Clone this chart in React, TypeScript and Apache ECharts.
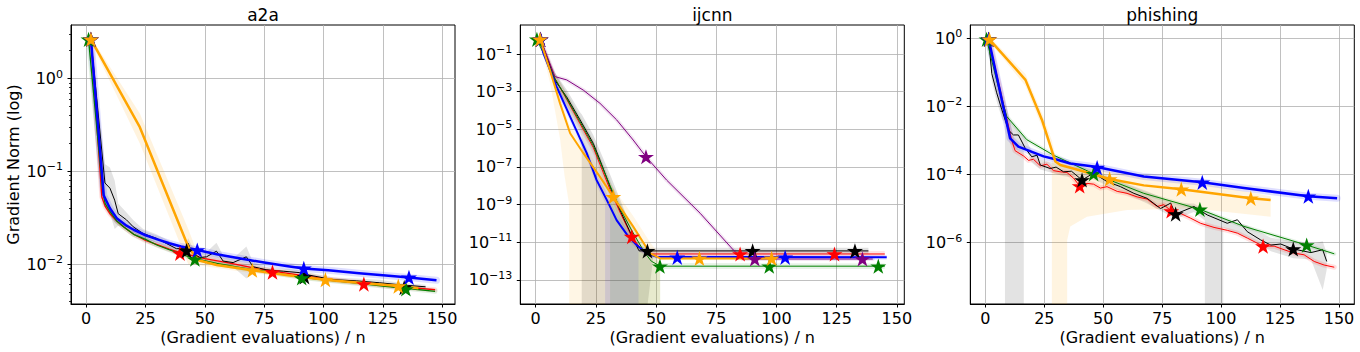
import React, { useEffect, useRef } from 'react';
import * as echarts from 'echarts';

// ---------------- data ----------------
const xTicks = [0, 25, 50, 75, 100, 125, 150];
const a2aYTicks = [0.01, 0.1, 1];
const ijcnnYTicks = [1e-13, 1e-11, 1e-9, 1e-7, 1e-5, 1e-3, 1e-1];
const phYTicks = [1e-6, 1e-4, 1e-2, 1];
const a2aMinorTicks = [0.004, 0.005, 0.006, 0.007, 0.008, 0.009, 0.02, 0.03, 0.04, 0.05, 0.06, 0.07, 0.08, 0.09, 0.2, 0.3, 0.4, 0.5, 0.6, 0.7, 0.8, 0.9, 2, 3];

const a2aXLim = [-6.4, 155.4];
const a2aYLim = [0.00372, 3.79];
const ijcnnXLim = [-6.4, 153.1];
const ijcnnYLim = [5.3e-15, 3.47];
const phXLim = [-6.4, 156.5];
const phYLim = [1.58e-8, 2.45];

// a2a
const a2aRedX = [2, 6.6, 8, 10, 13, 16, 20, 25, 30, 35, 40, 50, 60, 70, 80, 90, 100, 110, 120, 130, 140, 147];
const a2aRedY = [2.65, 0.053, 0.042, 0.035, 0.029, 0.025, 0.021, 0.018, 0.0162, 0.0145, 0.0132, 0.0115, 0.0103, 0.0092, 0.0083, 0.0076, 0.007, 0.0065, 0.0061, 0.0057, 0.0055, 0.0053];
const a2aRedStarX = [2, 39.5, 78.5, 117];
const a2aRedStarY = [2.65, 0.0131, 0.0082, 0.0061];

const a2aGreenX = [1, 7, 8, 10, 13, 16, 20, 25, 30, 35, 40, 45.8, 55, 65, 75, 90.8, 100, 115, 125, 134.7, 147];
const a2aGreenY = [2.65, 0.06, 0.045, 0.037, 0.029, 0.025, 0.021, 0.0185, 0.016, 0.0143, 0.0128, 0.0115, 0.0102, 0.0092, 0.0084, 0.0072, 0.0068, 0.0062, 0.0058, 0.0055, 0.0051];
const a2aGreenStarX = [1, 45.8, 90.8, 134.7];
const a2aGreenStarY = [2.65, 0.0113, 0.0071, 0.0054];

const a2aBlackX = [2, 7.9, 10, 12, 13.5, 17, 19.8, 24, 29.6, 33.8, 38, 41.6, 43, 44.4, 47.9, 50.7, 54.9, 57.7, 61.9, 67.5, 70.3, 75.8, 83, 90, 94.2, 104, 114, 123.7, 132, 143];
const a2aBlackY = [2.65, 0.075, 0.066, 0.049, 0.035, 0.03, 0.0253, 0.0214, 0.019, 0.0167, 0.0147, 0.0147, 0.0168, 0.0134, 0.0118, 0.012, 0.0138, 0.0108, 0.0104, 0.012, 0.0094, 0.0087, 0.0084, 0.0081, 0.0076, 0.0068, 0.0066, 0.0063, 0.006, 0.0057];
const a2aBlackHi = [2.8, 0.12, 0.11, 0.08, 0.045, 0.036, 0.03, 0.024, 0.021, 0.0185, 0.016, 0.016, 0.019, 0.016, 0.013, 0.0135, 0.017, 0.0125, 0.0115, 0.0155, 0.0105, 0.0093, 0.0089, 0.0086, 0.0081, 0.0072, 0.007, 0.0068, 0.0063, 0.006];
const a2aBlackLo = [2.5, 0.045, 0.035, 0.024, 0.026, 0.025, 0.022, 0.019, 0.0172, 0.0152, 0.0136, 0.0135, 0.0148, 0.0118, 0.0106, 0.0107, 0.0095, 0.0093, 0.0093, 0.007, 0.0083, 0.0081, 0.0079, 0.0076, 0.0071, 0.0065, 0.0062, 0.0059, 0.0057, 0.0055];
const a2aBlackStarX = [2, 42.3, 92, 134];
const a2aBlackStarY = [2.65, 0.014, 0.0073, 0.0056];

const a2aBlueX = [2, 7.4, 10, 13, 17, 20, 25, 30, 35, 40, 46.8, 55, 65, 75, 85, 91.7, 102, 115, 125, 136, 147.6];
const a2aBlueY = [2.65, 0.055, 0.04, 0.031, 0.026, 0.0235, 0.0205, 0.0185, 0.0168, 0.0155, 0.0142, 0.0128, 0.0115, 0.0104, 0.0095, 0.009, 0.0086, 0.008, 0.0076, 0.0072, 0.0067];
const a2aBlueStarX = [2, 46.8, 91.7, 136];
const a2aBlueStarY = [2.65, 0.0142, 0.009, 0.0072];

const a2aOrangeX = [2, 22.6, 43, 47.2, 55, 70, 85, 100.8, 115, 131.5, 140];
const a2aOrangeY = [2.65, 0.3, 0.0154, 0.011, 0.0098, 0.0086, 0.0076, 0.0068, 0.0063, 0.0058, 0.0055];
const a2aOrangeHi = [2.8, 0.42, 0.024, 0.0125, 0.0106, 0.0092, 0.0081, 0.0072, 0.0066, 0.0061, 0.0058];
const a2aOrangeLo = [2.5, 0.2, 0.01, 0.0098, 0.0091, 0.008, 0.0072, 0.0064, 0.006, 0.0055, 0.0052];
const a2aOrangeStarX = [2, 70, 100.8, 131.5];
const a2aOrangeStarY = [2.65, 0.0086, 0.0068, 0.0058];

// ijcnn
const ijRedX = [2, 8, 12.8, 18.4, 23.9, 30.9, 35, 39.9, 44, 48, 145];
const ijRedY = [0.6, 5e-3, 4e-4, 2e-5, 1.1e-6, 6.3e-9, 4e-10, 2e-11, 4e-12, 2.4e-12, 2.4e-12];
const ijRedStarX = [2, 39.9, 84.9, 124.1];
const ijRedStarY = [0.6, 2e-11, 2.4e-12, 2.4e-12];
const ijRedBandX = [2, 8, 12.8, 18.4, 23.9, 30.9, 35, 39.9, 44, 48, 145];
const ijRedBandHi = [0.8, 0.01, 8e-4, 4e-5, 2.5e-6, 1.6e-8, 1e-9, 5e-11, 5.6e-12, 3.5e-12, 3.5e-12];
const ijRedBandLo = [0.45, 2.5e-3, 2e-4, 1e-5, 5e-7, 2.5e-9, 1.6e-10, 8e-12, 2.8e-12, 1.6e-12, 1.6e-12];

const ijGreenX = [0.5, 8, 12.8, 18.4, 23.9, 30.9, 35, 40, 45, 48, 51.7, 145];
const ijGreenY = [0.6, 5e-3, 4.5e-4, 2.5e-5, 1.4e-6, 1e-8, 6.3e-10, 4e-11, 3.2e-12, 1e-12, 5.4e-13, 5.4e-13];
const ijGreenStarX = [0.5, 51.6, 97, 142.3];
const ijGreenStarY = [0.6, 5.4e-13, 5.4e-13, 5.4e-13];
const ijGreenBandX = [0.5, 8, 12.8, 18.4, 23.9, 30.9, 30.9, 35, 40, 45.2, 51.7, 51.7, 145];
const ijGreenBandHi = [0.8, 0.01, 9e-4, 5e-5, 2.8e-6, 2e-8, 2e-8, 1.3e-9, 8e-11, 6.3e-12, 8e-13, 8e-13, 7.6e-13];
const ijGreenBandLo = [0.45, 2.5e-3, 2.2e-4, 1.3e-5, 7e-7, 5e-9, 0, 0, 0, 0, 0, 3.8e-13, 3.8e-13];

const ijBlackX = [2, 8, 12.8, 18.4, 23.9, 26.7, 30.9, 35, 39, 42.7, 43, 138.2];
const ijBlackY = [0.6, 4e-3, 5.4e-4, 3.2e-5, 1.8e-6, 2.3e-7, 8.9e-9, 5.2e-10, 4e-11, 4e-12, 3.5e-12, 3.5e-12];
const ijBlackStarX = [2, 46.4, 90.1, 132.6];
const ijBlackStarY = [0.6, 3.5e-12, 3.5e-12, 3.5e-12];
const ijBlackBandX = [2, 8, 12.8, 18.4, 19.1, 19.1, 23.9, 30.9, 35, 39, 42.7, 46.5, 49, 138.2];
const ijBlackBandHi = [0.8, 0.01, 1.3e-3, 8e-5, 6.3e-5, 6.3e-5, 5e-6, 4e-8, 2e-9, 1e-10, 6.3e-12, 5.2e-12, 5.2e-12, 5.2e-12];
const ijBlackBandLo = [0.45, 2.5e-3, 1.6e-4, 6.3e-6, 4e-6, 0, 0, 0, 0, 0, 0, 0, 2.4e-12, 2.4e-12];

const ijPurpleX = [2, 8, 12.9, 19.8, 26.7, 33.6, 40.5, 45.8, 54.4, 68.3, 82.1, 86, 140];
const ijPurpleY = [0.6, 6.3e-3, 4.2e-3, 1.2e-3, 2.4e-4, 3.2e-5, 2.7e-6, 3.5e-7, 2e-8, 3.5e-10, 3.9e-12, 1.3e-12, 1.3e-12];
const ijPurpleStarX = [2, 45.8, 91, 135.7];
const ijPurpleStarY = [0.6, 3.5e-7, 1.3e-12, 1.3e-12];

const ijBlueX = [2, 3.2, 8.7, 14.9, 21.2, 25.3, 29.5, 33.6, 38, 42, 46.1, 50.3, 145.8];
const ijBlueY = [0.6, 0.11, 1.8e-3, 3.2e-5, 5.4e-7, 2e-8, 1.8e-9, 1.5e-10, 2.5e-11, 7e-12, 2.6e-12, 1.7e-12, 1.6e-12];
const ijBlueStarX = [2, 58.8, 103.6];
const ijBlueStarY = [0.6, 1.6e-12, 1.6e-12];
const ijBlueBandX = [2, 3.2, 8.7, 14.9, 21.2, 25.3, 28.8, 28.8, 33.6, 38, 42.7, 42.7, 46.1, 50.3, 145.8];
const ijBlueBandHi = [0.8, 0.16, 3.2e-3, 5.6e-5, 1e-6, 4e-8, 6.3e-9, 6.3e-9, 3.2e-10, 5e-11, 1e-11, 1e-11, 3.5e-12, 2.2e-12, 2.1e-12];
const ijBlueBandLo = [0.45, 0.08, 1e-3, 1.8e-5, 2.8e-7, 1e-8, 1.3e-9, 0, 0, 0, 0, 3.2e-12, 2e-12, 1.3e-12, 1.2e-12];

const ijOrangeX = [1.8, 5.9, 10.1, 14.3, 19.8, 26.7, 32.2, 40.5, 47.5, 51.7, 100];
const ijOrangeY = [0.6, 0.014, 2.4e-4, 6.2e-6, 5.4e-7, 3e-8, 2.6e-9, 6.8e-11, 2.6e-12, 1.4e-12, 1.4e-12];
const ijOrangeStarX = [1.8, 32.2, 68, 98];
const ijOrangeStarY = [0.6, 2.6e-9, 1.4e-12, 1.4e-12];
const ijOrangeBandX = [1.8, 5.9, 8, 10.1, 12, 13.9, 13.9, 19.8, 26.7, 32.2, 40.5, 47.5, 51.7, 51.7, 100];
const ijOrangeBandHi = [0.8, 0.032, 4e-3, 6.3e-4, 1e-4, 2e-5, 2e-5, 1.3e-6, 8e-8, 8e-9, 2.5e-10, 1e-11, 2e-12, 2e-12, 1.8e-12];
const ijOrangeBandLo = [0.45, 3.2e-3, 1e-4, 3.2e-6, 3.2e-8, 1e-9, 0, 0, 0, 0, 0, 0, 0, 1.1e-12, 1.1e-12];

// phishing
const phRedX = [1.4, 11.2, 12.6, 16.2, 18.3, 20.4, 23.3, 26.1, 28.9, 31.8, 34.6, 37.4, 40, 43.1, 45.9, 48.8, 51.6, 55.9, 60.1, 64.4, 68.6, 72.9, 75.7, 78.8, 82.8, 87.1, 91.3, 97, 102.6, 106.9, 111.2, 117.8, 122.5, 126.7, 131, 135.2, 139.5, 143.7, 148];
const phRedY = [0.93, 1e-3, 5e-4, 3.5e-4, 2.6e-4, 2.8e-4, 1.8e-4, 2e-4, 1.3e-4, 1.2e-4, 1.15e-4, 7.8e-5, 4.6e-5, 5.5e-5, 5.2e-5, 4e-5, 4.4e-5, 3.2e-5, 2.8e-5, 2.2e-5, 1.9e-5, 1.15e-5, 1.3e-5, 8.5e-6, 7.2e-6, 5.2e-6, 3.7e-6, 2.8e-6, 2.3e-6, 1.9e-6, 1.35e-6, 7.9e-7, 7.9e-7, 6.2e-7, 4.9e-7, 4.4e-7, 2.8e-7, 2.2e-7, 1.9e-7];
const phRedStarX = [1.4, 40, 78.8, 117.8];
const phRedStarY = [0.93, 4.6e-5, 8.5e-6, 7.9e-7];

const phGreenX = [0.5, 5, 9.1, 17.6, 28.9, 45.9, 67.2, 91, 109.7, 136.3, 148];
const phGreenY = [0.93, 0.05, 5e-3, 1.05e-3, 3.7e-4, 1.05e-4, 2.8e-5, 9.5e-6, 3e-6, 8.5e-7, 4.7e-7];
const phGreenStarX = [0.5, 45.9, 91, 136.3];
const phGreenStarY = [0.93, 1.05e-4, 9.5e-6, 8.5e-7];

const phBlackX = [1.4, 2.7, 4.8, 7, 9.8, 11.9, 14, 16.9, 19.7, 21.9, 23.3, 27.5, 30, 33.2, 36.5, 41, 45.9, 51.6, 57.3, 63, 68.6, 74.3, 78.6, 80.7, 88.5, 94.1, 102.6, 106.9, 111.1, 116.8, 121.1, 125.3, 130.6, 138.1, 143.1, 144.8];
const phBlackY = [0.93, 0.093, 0.025, 7.9e-3, 2e-3, 1.45e-3, 1.45e-3, 5.9e-4, 3.3e-4, 3.7e-4, 1.9e-4, 1.5e-4, 1.65e-4, 1.2e-4, 1.25e-4, 6.9e-5, 1.1e-4, 6.2e-5, 4.4e-5, 2.8e-5, 2e-5, 1e-5, 1.45e-5, 6.9e-6, 1.15e-5, 6.5e-6, 3.7e-6, 4.7e-6, 2.1e-6, 1.2e-6, 8.5e-7, 9.1e-7, 6.5e-7, 5.1e-7, 6.2e-7, 2.8e-7];
const phBlackStarX = [1.4, 41, 80.7, 130.6];
const phBlackStarY = [0.93, 6.9e-5, 6.9e-6, 6.5e-7];
const phBlackBandX = [1.4, 2.7, 4.8, 7, 8.3, 8.3, 16.3, 16.3, 19.7, 23.3, 33.2, 45.9, 57.3, 68.6, 80.7, 88.5, 93.1, 93.1, 100.9, 100.9, 111.1, 121.1, 130.6, 138.1, 143.1, 144.8];
const phBlackBandHi = [1.12, 0.14, 0.04, 0.0126, 6.3e-3, 6.3e-3, 1.4e-3, 1.4e-3, 5e-4, 2.8e-4, 1.8e-4, 1.4e-4, 6.3e-5, 3.2e-5, 1.4e-5, 1.4e-5, 8.9e-6, 8.9e-6, 5e-6, 5e-6, 3.2e-6, 1.4e-6, 1.1e-6, 8.9e-7, 1.1e-6, 5e-7];
const phBlackBandLo = [0.8, 0.056, 0.014, 4.5e-3, 3.2e-3, 0, 0, 7.9e-4, 2.2e-4, 1.4e-4, 8.9e-5, 7.1e-5, 3.2e-5, 1.4e-5, 5e-6, 7.9e-6, 4.5e-6, 0, 0, 2.8e-6, 1.4e-6, 5.6e-7, 3.5e-7, 3.2e-7, 4.1e-8, 1.6e-7];

const phBlueX = [1.4, 10.5, 14, 24.7, 30.5, 36, 46.7, 67.2, 92, 109.7, 137, 149.2];
const phBlueY = [0.93, 1.15e-3, 6.6e-4, 3.4e-4, 2.7e-4, 2.1e-4, 1.7e-4, 8.7e-5, 5.9e-5, 4e-5, 2.3e-5, 2e-5];
const phBlueStarX = [1.4, 47.4, 92, 137];
const phBlueStarY = [0.93, 1.6e-4, 5.9e-5, 2.3e-5];

const phOrangeX = [1.7, 17, 24, 29.7, 31.8, 38.8, 52.7, 67.2, 83.1, 112.6, 121];
const phOrangeY = [0.93, 0.06, 4e-3, 2.4e-4, 1.9e-4, 1.4e-4, 7.4e-5, 4.8e-5, 3.7e-5, 2e-5, 1.8e-5];
const phOrangeStarX = [1.7, 52.7, 83.1, 112.6];
const phOrangeStarY = [0.93, 7.4e-5, 3.7e-5, 2e-5];
const phOrangeBandX = [1.7, 17, 24, 28.2, 28.2, 29.7, 34.7, 34.7, 36, 43.1, 60.1, 88.5, 121];
const phOrangeBandHi = [1.12, 0.089, 6.3e-3, 1e-3, 1e-3, 3.5e-4, 2.2e-4, 2.2e-4, 2.1e-4, 1.6e-4, 1e-4, 6e-5, 2.3e-5];
const phOrangeBandLo = [0.8, 0.04, 2.5e-3, 4e-4, 0, 0, 0, 1.2e-6, 3e-6, 5.8e-6, 9.1e-6, 1e-5, 5.8e-6];

// ---------------- styling / builders ----------------
const FONT = 'DejaVu Sans';
const C = { red: '#ff0000', green: '#008000', black: '#000000', blue: '#0000ff', orange: '#ffa500', purple: '#800080' };
const STAR = 'path://M0,-100L22.45,-30.9L95.1,-30.9L36.3,11.8L58.8,80.9L0,38.2L-58.8,80.9L-36.3,11.8L-95.1,-30.9L-22.45,-30.9Z';

type Method = {
  color: string; width: number; x: number[]; y: number[]; sx: number[]; sy: number[];
  halo?: [number, number]; band?: { x: number[]; hi: number[]; lo: number[]; op: number };
};

type Panel = {
  title: string; left: number; xLim: number[]; yLim: number[]; yTicks: number[]; minor?: number[]; methods: Method[];
};

const panels: Panel[] = [
  {
    title: 'a2a', left: 71, xLim: a2aXLim, yLim: a2aYLim, yTicks: a2aYTicks, minor: a2aMinorTicks,
    methods: [
      { color: C.red, width: 1.3, x: a2aRedX, y: a2aRedY, sx: a2aRedStarX, sy: a2aRedStarY, halo: [5, 0.12] },
      { color: C.black, width: 1, x: a2aBlackX, y: a2aBlackY, sx: a2aBlackStarX, sy: a2aBlackStarY, band: { x: a2aBlackX, hi: a2aBlackHi, lo: a2aBlackLo, op: 0.11 } },
      { color: C.green, width: 1.3, x: a2aGreenX, y: a2aGreenY, sx: a2aGreenStarX, sy: a2aGreenStarY, halo: [5, 0.12] },
      { color: C.blue, width: 2.5, x: a2aBlueX, y: a2aBlueY, sx: a2aBlueStarX, sy: a2aBlueStarY, halo: [7, 0.13] },
      { color: C.orange, width: 2.5, x: a2aOrangeX, y: a2aOrangeY, sx: a2aOrangeStarX, sy: a2aOrangeStarY, band: { x: a2aOrangeX, hi: a2aOrangeHi, lo: a2aOrangeLo, op: 0.13 } },
    ],
  },
  {
    title: 'ijcnn', left: 520.3, xLim: ijcnnXLim, yLim: ijcnnYLim, yTicks: ijcnnYTicks,
    methods: [
      { color: C.red, width: 1, x: ijRedX, y: ijRedY, sx: ijRedStarX, sy: ijRedStarY, band: { x: ijRedBandX, hi: ijRedBandHi, lo: ijRedBandLo, op: 0.1 } },
      { color: C.black, width: 1, x: ijBlackX, y: ijBlackY, sx: ijBlackStarX, sy: ijBlackStarY, band: { x: ijBlackBandX, hi: ijBlackBandHi, lo: ijBlackBandLo, op: 0.12 } },
      { color: C.green, width: 1, x: ijGreenX, y: ijGreenY, sx: ijGreenStarX, sy: ijGreenStarY, band: { x: ijGreenBandX, hi: ijGreenBandHi, lo: ijGreenBandLo, op: 0.1 } },
      { color: C.purple, width: 1, x: ijPurpleX, y: ijPurpleY, sx: ijPurpleStarX, sy: ijPurpleStarY, halo: [4, 0.1] },
      { color: C.blue, width: 2, x: ijBlueX, y: ijBlueY, sx: ijBlueStarX, sy: ijBlueStarY, band: { x: ijBlueBandX, hi: ijBlueBandHi, lo: ijBlueBandLo, op: 0.1 } },
      { color: C.orange, width: 2, x: ijOrangeX, y: ijOrangeY, sx: ijOrangeStarX, sy: ijOrangeStarY, band: { x: ijOrangeBandX, hi: ijOrangeBandHi, lo: ijOrangeBandLo, op: 0.1 } },
    ],
  },
  {
    title: 'phishing', left: 970.3, xLim: phXLim, yLim: phYLim, yTicks: phYTicks,
    methods: [
      { color: C.red, width: 1, x: phRedX, y: phRedY, sx: phRedStarX, sy: phRedStarY, halo: [5, 0.12] },
      { color: C.black, width: 1, x: phBlackX, y: phBlackY, sx: phBlackStarX, sy: phBlackStarY, band: { x: phBlackBandX, hi: phBlackBandHi, lo: phBlackBandLo, op: 0.11 } },
      { color: C.green, width: 1, x: phGreenX, y: phGreenY, sx: phGreenStarX, sy: phGreenStarY, halo: [4, 0.1] },
      { color: C.blue, width: 2.5, x: phBlueX, y: phBlueY, sx: phBlueStarX, sy: phBlueStarY, halo: [7, 0.13] },
      { color: C.orange, width: 2.5, x: phOrangeX, y: phOrangeY, sx: phOrangeStarX, sy: phOrangeStarY, band: { x: phOrangeBandX, hi: phOrangeBandHi, lo: phOrangeBandLo, op: 0.12 } },
    ],
  },
];

const GRID_TOP = 25;
const GRID_W = 384;
const GRID_H = 279;

const lg = (v: number, floor: number) => (v > 0 ? Math.max(Math.log10(v), floor) : floor);

const supLabel = (v: number) => {
  const e = Math.round(v);
  return `{b|10}{s|${e < 0 ? '\u2212' + -e : e}}`;
};

function buildOption() {
  const grid: any[] = [];
  const xAxis: any[] = [];
  const yAxis: any[] = [];
  const series: any[] = [];
  const graphic: any[] = [];

  panels.forEach((p, g) => {
    const yMin = Math.log10(p.yLim[0]);
    const yMax = Math.log10(p.yLim[1]);
    grid.push({
      left: p.left, top: GRID_TOP, width: GRID_W, height: GRID_H,
      show: true, borderColor: '#000', borderWidth: 1, backgroundColor: 'transparent',
      containLabel: false, outerBoundsMode: 'none',
    });
    xAxis.push({
      type: 'value', gridIndex: g, min: p.xLim[0], max: p.xLim[1],
      axisLine: { show: true, onZero: false, lineStyle: { color: '#000', width: 1 } },
      axisTick: { show: true, inside: false, length: 3.5, customValues: xTicks, lineStyle: { color: '#000', width: 1 } },
      axisLabel: { customValues: xTicks, fontSize: 16, fontFamily: FONT, color: '#000', margin: 6, formatter: (v: number) => String(v) },
      splitLine: { show: true, lineStyle: { color: '#b0b0b0', width: 0.8 } },
    });
    const yt = p.yTicks.map((v) => Math.log10(v));
    yAxis.push({
      type: 'value', gridIndex: g, min: yMin, max: yMax,
      axisLine: { show: true, onZero: false, lineStyle: { color: '#000', width: 1 } },
      axisTick: { show: true, inside: false, length: 3.5, customValues: yt, lineStyle: { color: '#000', width: 1 } },
      axisLabel: {
        customValues: yt, margin: 8, formatter: supLabel,
        rich: {
          b: { fontSize: 16, fontFamily: FONT, color: '#000', lineHeight: 20 },
          s: { fontSize: 11, fontFamily: FONT, color: '#000', verticalAlign: 'top', lineHeight: 12 },
        },
      },
      splitLine: { show: true, lineStyle: { color: '#b0b0b0', width: 0.8 } },
    });

    // bands
    p.methods.forEach((m) => {
      if (!m.band) return;
      const b = m.band;
      series.push({
        type: 'custom', xAxisIndex: g, yAxisIndex: g, silent: true, z: 1,
        data: [[b.x[0], lg(b.hi[0], yMin)]],
        renderItem: (_params: any, api: any) => {
          const pts: number[][] = [];
          for (let i = 0; i < b.x.length; i++) pts.push(api.coord([b.x[i], Math.min(lg(b.hi[i], yMin), yMax)]));
          for (let i = b.x.length - 1; i >= 0; i--) pts.push(api.coord([b.x[i], Math.min(lg(b.lo[i], yMin), yMax)]));
          return { type: 'polygon', shape: { points: pts }, style: { fill: m.color, opacity: b.op } };
        },
      });
    });
    // halos
    p.methods.forEach((m) => {
      if (!m.halo) return;
      series.push({
        type: 'line', xAxisIndex: g, yAxisIndex: g, silent: true, z: 2, symbol: 'none', showSymbol: false,
        data: m.x.map((x, i) => [x, lg(m.y[i], yMin)]),
        lineStyle: { color: m.color, width: m.halo[0], opacity: m.halo[1], join: 'round', cap: 'round' },
      });
    });
    // lines + stars
    p.methods.forEach((m) => {
      series.push({
        type: 'line', xAxisIndex: g, yAxisIndex: g, silent: true, z: 3, symbol: 'none', showSymbol: false,
        data: m.x.map((x, i) => [x, lg(m.y[i], yMin)]),
        lineStyle: { color: m.color, width: m.width, join: 'round' },
      });
      series.push({
        type: 'scatter', xAxisIndex: g, yAxisIndex: g, silent: true, z: 3,
        symbol: STAR, symbolSize: 16, symbolKeepAspect: true,
        data: m.sx.map((x, i) => [x, lg(m.sy[i], yMin)]),
        itemStyle: { color: m.color, opacity: 1 },
      });
    });

    const cx = p.left + GRID_W / 2;
    graphic.push({
      type: 'text', x: cx, y: 15, silent: true,
      style: { text: p.title, fontSize: 17, fontFamily: FONT, fill: '#000', align: 'center', verticalAlign: 'middle' },
    });
    graphic.push({
      type: 'text', x: cx, y: 337, silent: true,
      style: { text: '(Gradient evaluations) / n', fontSize: 16, fontFamily: FONT, fill: '#000', align: 'center', verticalAlign: 'middle' },
    });
  });

  // minor ticks for a2a
  const p0 = panels[0];
  yAxis.push({
    type: 'value', gridIndex: 0, min: Math.log10(p0.yLim[0]), max: Math.log10(p0.yLim[1]), position: 'left',
    axisLine: { show: false, onZero: false },
    axisTick: { show: true, inside: false, length: 2, customValues: (p0.minor || []).map((v) => Math.log10(v)), lineStyle: { color: '#000', width: 0.8 } },
    axisLabel: { show: false },
    splitLine: { show: false },
  });

  graphic.push({
    type: 'text', x: 13, y: 164.5, rotation: Math.PI / 2, silent: true,
    style: { text: 'Gradient Norm (log)', fontSize: 16, fontFamily: FONT, fill: '#000', align: 'center', verticalAlign: 'middle' },
  });

  return {
    animation: false,
    backgroundColor: '#ffffff',
    textStyle: { fontFamily: FONT },
    grid, xAxis, yAxis, series, graphic,
  };
}

export default function App() {
  const ref = useRef<HTMLDivElement>(null);
  useEffect(() => {
    if (!ref.current) return;
    const chart = echarts.init(ref.current, null, { renderer: 'svg' });
    chart.setOption(buildOption() as any);
    return () => chart.dispose();
  }, []);
  return <div ref={ref} style={{ position: 'absolute', left: 0, top: 0, width: 1360, height: 352 }} />;
}
